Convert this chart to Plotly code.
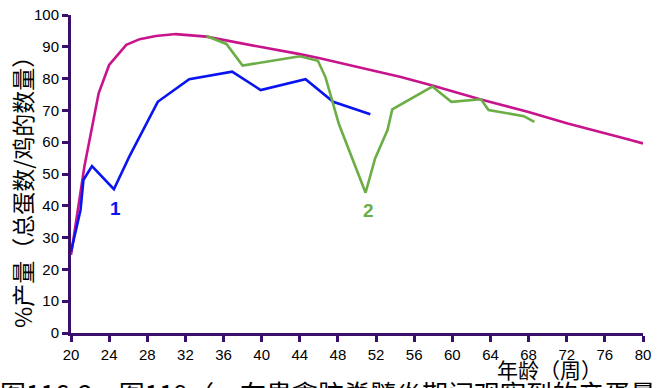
import plotly.graph_objects as go

# Standard (magenta) production curve
std_weeks = [20, 21.4, 22.9, 24, 25.8, 27.2, 28.9, 31, 34.2, 37.7, 39.8, 44, 46.1,
             52.1, 54.5, 57.9, 62.9, 67.9, 72.1, 78.4, 80]
std_vals = [24.5, 52.3, 75.4, 84.3, 90.6, 92.4, 93.4, 94, 93.2, 91.1, 90, 87.7, 86.4,
            82.2, 80.6, 77.8, 73.5, 69.6, 65.9, 60.9, 59.6]

# Flock 1 (blue)
f1_weeks = [20, 21, 21.3, 22.2, 24.5, 26.1, 29.1, 32.4, 36.9, 39.9, 44.6, 47.5, 51.4]
f1_vals = [25.6, 38.7, 48.1, 52.5, 45.2, 55.4, 72.7, 79.8, 82.2, 76.4, 79.8, 72.7, 68.8]

# Flock 2 (green)
f2_weeks = [34.2, 36.3, 38, 44, 45.9, 46.7, 48.1, 49.3, 50.9, 51.9, 53.2, 53.7,
            57.9, 59.9, 63, 63.8, 67.5, 68.6]
f2_vals = [93.4, 90.9, 84.1, 87, 85.6, 80.4, 65.7, 56.5, 44.1, 54.9, 63.8, 70.3,
           77.5, 72.7, 73.5, 70.1, 68.2, 66.4]

x_ticks = list(range(20, 81, 4))
y_ticks = list(range(0, 101, 10))

AXIS = "#3a0f6b"
CJK = "Noto Sans CJK SC"
LAT = "Liberation Sans, Arial, sans-serif"

W, H = 662, 388
L, R, T, B = 71, 19, 15, 55
PW, PH = W - L - R, H - T - B


def px(xp):
    return (xp - L) / PW


def py(yp):
    return (H - B - yp) / PH


fig = go.Figure()
fig.add_trace(go.Scatter(x=std_weeks, y=std_vals, mode="lines",
                         line=dict(color="#c8148c", width=2.6), showlegend=False))
fig.add_trace(go.Scatter(x=f1_weeks, y=f1_vals, mode="lines",
                         line=dict(color="#0a14f0", width=2.6), showlegend=False))
fig.add_trace(go.Scatter(x=f2_weeks, y=f2_vals, mode="lines",
                         line=dict(color="#6aae45", width=2.6), showlegend=False))

fig.update_layout(
    width=W, height=H,
    margin=dict(l=L, r=R, t=T, b=B, autoexpand=False),
    paper_bgcolor="white", plot_bgcolor="white",
    font=dict(family=LAT, color="black", size=15),
    xaxis=dict(range=[20, 80], tickvals=x_ticks, ticktext=[str(v) for v in x_ticks],
               automargin=False,
               showgrid=False, zeroline=False, showline=True, linecolor=AXIS, linewidth=3,
               ticks="outside", ticklen=6, tickwidth=2.5, tickcolor=AXIS,
               tickfont=dict(size=15, family=LAT)),
    yaxis=dict(range=[0, 100], tickvals=y_ticks, ticktext=[str(v) for v in y_ticks],
               automargin=False,
               showgrid=False, zeroline=False, showline=True, linecolor=AXIS, linewidth=3,
               ticks="outside", ticklen=6, tickwidth=2.5, tickcolor=AXIS,
               tickfont=dict(size=15, family=LAT)),
    annotations=[
        dict(x=24.7, y=39.3, xref="x", yref="y", text="<b>1</b>", showarrow=False,
             xanchor="center", yanchor="middle",
             font=dict(family=LAT, size=19, color="#0a14f0")),
        dict(x=51.2, y=38.5, xref="x", yref="y", text="<b>2</b>", showarrow=False,
             xanchor="center", yanchor="middle",
             font=dict(family=LAT, size=19, color="#6aae45")),
        dict(x=px(22), y=py(187), xref="paper", yref="paper", text="%产量（总蛋数/鸡的数量）",
             textangle=-90, showarrow=False, xanchor="center", yanchor="middle",
             font=dict(family=CJK, size=23, color="black")),
        dict(x=px(549), y=py(369), xref="paper", yref="paper", text="年龄（周）",
             showarrow=False, xanchor="center", yanchor="middle",
             font=dict(family=CJK, size=21, color="black")),
        dict(x=px(-2), y=py(372), xref="paper", yref="paper", xanchor="left", yanchor="top",
             text="图116-2　图119（　在患禽脑脊髓炎期间观察到的产蛋量",
             showarrow=False, font=dict(family=CJK, size=26, color="black")),
    ],
)

fig.write_html("out.html", config={"displayModeBar": False},
               post_script="document.body.style.margin='0';document.body.style.overflow='hidden';")
